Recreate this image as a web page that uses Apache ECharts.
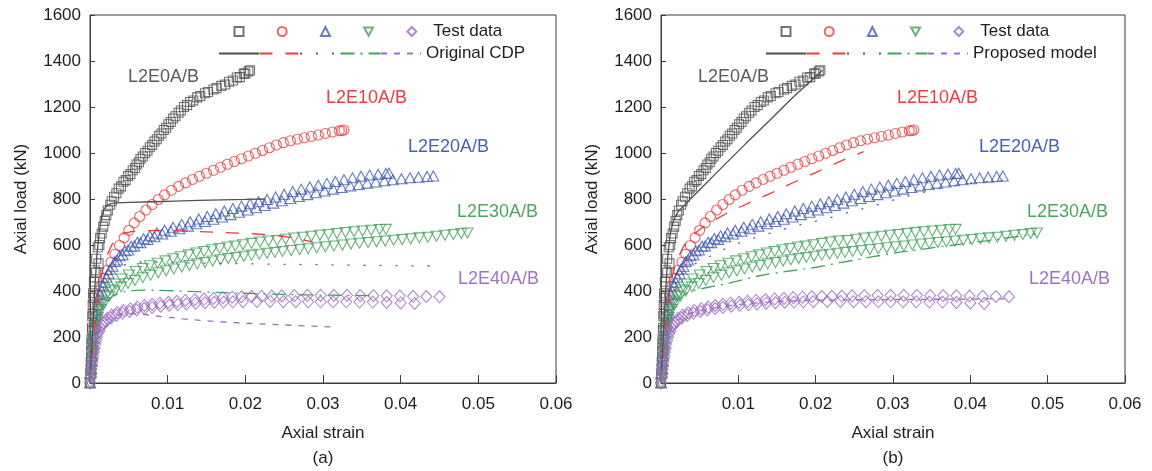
<!DOCTYPE html>
<html>
<head>
<meta charset="utf-8">
<title>Axial load–strain curves</title>
<script src="https://cdn.jsdelivr.net/npm/echarts@6/dist/echarts.min.js"></script>
<style>
  html, body { margin: 0; padding: 0; background: #fff; }
  #chart { width: 1152px; height: 471px; }
</style>
</head>
<body>
<div id="chart"></div>
<script>
// ---- Test data: [axial strain, axial load (kN)], specimens A and B ----
const testE0 = [
  [0,0],[0.00005,40],[0.0001,90],[0.00015,140],[0.0002,190],[0.00025,240],[0.0003,290],[0.00035,340],
  [0.0004,390],[0.0005,440],[0.0006,490],[0.0008,540],[0.001,590],[0.0013,630],[0.0017,680],[0.0021,730],
  [0.0026,775],[0.0031,810],[0.0037,845],[0.0043,875],[0.0049,900],[0.0055,925],[0.006,950],[0.0065,975],
  [0.0071,1000],[0.0077,1025],[0.0083,1050],[0.0089,1075],[0.0095,1100],[0.0101,1125],[0.0107,1150],
  [0.0114,1175],[0.0121,1200],[0.0129,1222],[0.0138,1242],[0.0148,1260],[0.0159,1276],[0.0169,1292],
  [0.0179,1310],[0.0189,1328],[0.0198,1345],[0.0206,1360],
  [0.0001,60],[0.00015,110],[0.0002,170],[0.0003,230],[0.00035,300],[0.00045,370],[0.0006,420],
  [0.0008,480],[0.0011,520],[0.0012,600],[0.0015,650],[0.0019,705],[0.0023,750],[0.0028,790],
  [0.0034,825],[0.004,855],[0.0046,882],[0.0052,908],[0.0058,935],[0.0063,960],[0.0068,985],
  [0.0074,1010],[0.008,1035],[0.0086,1060],[0.0092,1085],[0.0098,1110],[0.0104,1135],[0.011,1160],
  [0.0117,1185],[0.0125,1208],[0.0133,1228],[0.0142,1248],[0.0152,1265],[0.0163,1282],[0.0174,1298],
  [0.0184,1315],[0.0193,1330],[0.02,1345],[0.0204,1355]
];
const testE10 = [
  [0,0],[0.0001,50],[0.0002,100],[0.0003,150],[0.0004,200],[0.0005,245],[0.0007,290],[0.0009,335],
  [0.0011,380],[0.0014,420],[0.0018,455],[0.0022,490],[0.0027,525],[0.0032,560],[0.0038,598],
  [0.0044,632],[0.005,664],[0.0057,696],[0.0064,724],[0.0072,752],[0.008,776],[0.0088,798],
  [0.0096,818],[0.0105,838],[0.0114,855],[0.0123,870],[0.0132,885],[0.0141,899],[0.015,912],
  [0.0159,925],[0.0168,938],[0.0177,951],[0.0186,963],[0.0195,975],[0.0204,987],[0.0213,999],
  [0.0222,1011],[0.0231,1023],[0.024,1035],[0.0249,1045],[0.0258,1053],[0.0267,1060],[0.0276,1066],
  [0.0285,1072],[0.0294,1078],[0.0303,1085],[0.0312,1091],[0.0321,1097],[0.0327,1100],[0.0324,1097]
];
const testE20 = [
  [0,0],[0.0001,45],[0.0002,95],[0.0003,145],[0.0004,195],[0.0006,245],[0.0008,295],[0.001,340],
  [0.0013,385],[0.0017,425],[0.0021,460],[0.0026,495],[0.0032,528],[0.0038,553],[0.0045,575],
  [0.0053,595],[0.0061,612],[0.0069,627],[0.0077,640],[0.0086,652],[0.0096,664],[0.0107,677],
  [0.0118,690],[0.0129,701],[0.014,713],[0.0151,724],[0.0162,736],[0.0173,748],[0.0184,759],
  [0.0195,769],[0.0206,779],[0.0217,788],[0.0228,798],[0.0239,809],[0.025,821],[0.0261,833],
  [0.0272,843],[0.0283,852],[0.0294,860],[0.0305,868],[0.0316,876],[0.0327,884],[0.0338,892],
  [0.0349,899],[0.036,904],[0.0371,908],[0.0381,911],[0.0385,912],
  [0.00015,60],[0.00025,120],[0.00035,170],[0.0005,220],[0.0007,270],[0.0009,318],[0.0012,362],
  [0.0015,400],[0.0019,438],[0.0024,475],[0.0029,508],[0.0035,535],[0.0042,558],[0.0049,578],
  [0.0057,596],[0.0065,610],[0.0074,624],[0.0083,636],[0.0093,648],[0.0104,660],[0.0115,671],
  [0.0126,682],[0.0137,692],[0.0148,702],[0.0159,712],[0.017,722],[0.0181,732],[0.0192,742],
  [0.0203,752],[0.0214,762],[0.0225,772],[0.0236,782],[0.0247,792],[0.0258,802],[0.0269,811],
  [0.028,819],[0.0291,827],[0.0302,835],[0.0313,843],[0.0324,850],[0.0335,857],[0.0346,863],
  [0.0357,869],[0.0368,874],[0.0379,879],[0.039,884],[0.0401,888],[0.0412,892],[0.0423,895],
  [0.0434,898],[0.0442,900]
];
const testE30 = [
  [0,0],[0.0001,40],[0.0002,85],[0.0003,130],[0.0004,175],[0.0006,220],[0.0008,265],[0.0011,310],
  [0.0015,345],[0.002,375],[0.0026,405],[0.0033,430],[0.0041,452],[0.005,470],[0.0059,485],
  [0.0068,498],[0.0077,510],[0.0087,521],[0.0097,531],[0.0107,540],[0.0117,549],[0.0127,557],
  [0.0137,565],[0.0147,572],[0.0157,579],[0.0167,585],[0.0177,591],[0.0187,596],[0.0197,601],
  [0.0208,607],[0.0219,613],[0.023,617],[0.0241,620],[0.0252,625],[0.0263,630],[0.0274,634],
  [0.0285,638],[0.0296,642],[0.0307,646],[0.0318,650],[0.0329,654],[0.034,658],[0.0351,661],
  [0.0362,664],[0.0373,667],[0.0381,668],
  [0.00015,60],[0.00025,110],[0.00035,155],[0.0005,200],[0.0007,245],[0.001,285],[0.0014,320],
  [0.0019,350],[0.0025,378],[0.0032,400],[0.004,418],[0.0049,433],[0.0058,446],[0.0068,458],
  [0.0078,469],[0.0088,479],[0.0098,488],[0.0108,496],[0.0118,504],[0.0128,511],[0.0138,518],
  [0.0148,524],[0.0158,530],[0.0168,536],[0.0178,541],[0.0188,546],[0.0198,551],[0.0208,556],
  [0.0218,560],[0.0228,564],[0.0238,568],[0.0248,572],[0.0259,576],[0.027,580],[0.0281,584],
  [0.0292,588],[0.0303,592],[0.0314,596],[0.0325,600],[0.0336,604],[0.0347,608],[0.0358,611],
  [0.0369,614],[0.038,617],[0.0391,621],[0.0402,624],[0.0413,627],[0.0424,631],[0.0435,634],
  [0.0446,638],[0.0457,642],[0.0468,646],[0.0478,650],[0.0486,652]
];
const testE40 = [
  [0,0],[0.0001,30],[0.0002,60],[0.0003,90],[0.0004,115],[0.0006,150],[0.0008,185],[0.001,215],
  [0.0013,240],[0.0017,262],[0.0022,280],[0.0028,295],[0.0035,306],[0.0043,315],[0.0052,323],
  [0.0061,330],[0.007,337],[0.008,342],[0.009,347],[0.0101,351],[0.0112,355],[0.0123,359],
  [0.0135,362],[0.0147,365],[0.0159,368],[0.0171,371],[0.0183,373],[0.0195,375],[0.0208,376],
  [0.0221,377],[0.0234,378],[0.0247,379],[0.0263,380],[0.028,381],[0.0297,381],[0.0314,381],
  [0.0331,381],[0.0348,380],[0.0365,380],[0.0382,379],[0.0399,378],[0.0416,377],[0.0433,376],
  [0.045,375],
  [0.00015,45],[0.00025,75],[0.00035,105],[0.0005,135],[0.0007,170],[0.0009,200],[0.0012,225],
  [0.0016,250],[0.0021,268],[0.0027,283],[0.0034,294],[0.0042,303],[0.0051,311],[0.006,318],
  [0.007,324],[0.008,329],[0.0091,334],[0.0102,338],[0.0113,341],[0.0124,344],[0.0136,347],
  [0.0148,349],[0.016,351],[0.0172,352],[0.0184,353],[0.0197,354],[0.0215,355],[0.0232,355],
  [0.0249,354],[0.0265,354],[0.0281,353],[0.0297,353],[0.0313,353],[0.033,353],[0.0347,352],
  [0.0364,352],[0.0382,350],[0.04,348],[0.0418,346]
];

// ---- Simulated curves with the original CDP model ----
const cdpE0 = [[0,0],[0.0003,200],[0.0006,400],[0.0009,560],[0.0012,660],[0.0015,720],[0.0018,755],
  [0.0022,772],[0.0027,780],[0.0035,783],[0.005,785],[0.008,788],[0.011,791],[0.014,794],[0.017,796],
  [0.02,798],[0.0226,800]];
const cdpE10 = [[0,0],[0.0003,120],[0.0006,240],[0.001,370],[0.0015,470],[0.002,540],[0.0028,600],
  [0.0036,635],[0.0045,652],[0.0055,659],[0.007,662],[0.009,663],[0.011,662],[0.013,660],[0.015,657],
  [0.017,654],[0.019,652],[0.021,649],[0.023,644],[0.025,637],[0.027,627],[0.0287,612]];
const cdpE20 = [[0,0],[0.0003,100],[0.0006,200],[0.001,300],[0.0015,390],[0.002,440],[0.003,485],
  [0.004,508],[0.005,520],[0.0065,526],[0.009,526],[0.012,523],[0.015,521],[0.02,518],[0.025,516],
  [0.03,514],[0.035,512],[0.04,510],[0.0455,508]];
const cdpE30 = [[0,0],[0.0003,90],[0.0006,180],[0.001,260],[0.0015,320],[0.002,350],[0.003,380],
  [0.004,395],[0.0055,402],[0.007,404],[0.01,402],[0.013,398],[0.016,394],[0.019,391],[0.022,388],
  [0.025,385],[0.028,383],[0.031,382],[0.034,381],[0.036,380]];
const cdpE40 = [[0,0],[0.0003,70],[0.0006,140],[0.001,200],[0.0015,245],[0.002,272],[0.003,292],
  [0.004,300],[0.005,302],[0.0065,300],[0.008,294],[0.01,286],[0.012,279],[0.014,273],[0.016,268],
  [0.018,264],[0.02,260],[0.022,257],[0.024,254],[0.026,251],[0.028,248],[0.03,245],[0.0318,243]];

// ---- Simulated curves with the proposed model ----
const propE0 = [[0,0],[0.0003,200],[0.0006,400],[0.0009,560],[0.0012,650],[0.0016,705],[0.0022,745],
  [0.005,840],[0.008,942],[0.011,1042],[0.014,1140],[0.017,1240],[0.0209,1360]];
const propE10 = [[0,0],[0.0003,120],[0.0006,240],[0.001,370],[0.0015,470],[0.002,530],[0.003,600],
  [0.004,640],[0.0055,680],[0.007,710],[0.0085,738],[0.01,762],[0.012,793],[0.014,822],[0.016,854],
  [0.018,885],[0.02,915],[0.022,946],[0.024,976],[0.0262,1006]];
const propE20 = [[0,0],[0.0003,100],[0.0006,200],[0.001,300],[0.0015,380],[0.002,430],[0.003,480],
  [0.004,510],[0.005,530],[0.0066,555],[0.0088,592],[0.011,620],[0.013,640],[0.015,660],[0.017,680],
  [0.019,696],[0.021,710],[0.023,730],[0.025,748],[0.027,766],[0.029,785],[0.031,805],[0.033,822],
  [0.035,838],[0.037,852],[0.039,864],[0.041,873],[0.0442,882]];
const propE30 = [[0,0],[0.0003,90],[0.0006,180],[0.001,260],[0.0015,320],[0.002,355],[0.003,385],
  [0.004,400],[0.0055,412],[0.007,422],[0.0087,433],[0.0105,448],[0.0121,462],[0.014,474],[0.016,484],
  [0.018,493],[0.0195,500],[0.0215,512],[0.0229,522],[0.025,534],[0.0274,549],[0.0295,561],
  [0.0313,571],[0.0334,580],[0.036,592],[0.039,605],[0.042,618],[0.045,632],[0.0485,648]];
const propE40 = [[0,0],[0.0003,70],[0.0006,140],[0.001,200],[0.0015,245],[0.002,270],[0.003,292],
  [0.004,305],[0.006,320],[0.008,333],[0.01,342],[0.013,350],[0.016,356],[0.02,360],[0.025,362],
  [0.03,363],[0.035,364],[0.04,365],[0.0452,366]];

// ---- Groups, axis ticks and text ----
const groups = ['L2E0A/B', 'L2E10A/B', 'L2E20A/B', 'L2E30A/B', 'L2E40A/B'];
const strainTicks = [0, 0.01, 0.02, 0.03, 0.04, 0.05, 0.06];
const loadTicks = [0, 200, 400, 600, 800, 1000, 1200, 1400, 1600];
const panelTags = ['(a)', '(b)'];
const modelNames = ['Original CDP', 'Proposed model'];

const testSets = [testE0, testE10, testE20, testE30, testE40];
const modelSets = [
  [cdpE0, cdpE10, cdpE20, cdpE30, cdpE40],
  [propE0, propE10, propE20, propE30, propE40]
];

// ---- Styling ----
const FONT = '"Liberation Sans", Arial, Helvetica, sans-serif';
const TXT = '#1e1e1e';
const AX = '#3c3c3c';
const colors = ['#505050', '#ee3b3b', '#3f5db3', '#45a25a', '#9c6cc3'];
const labelColors = ['#5a5a5a', '#ee3b3b', '#4562b8', '#4ea55f', '#a073c6'];
const symbols = ['rect', 'circle', 'triangle', 'triangle', 'diamond'];
const symbolRot = [0, 0, 0, 180, 0];
const symbolSizes = [[9, 9], 10, [11, 10], [11, 10], [11, 12]];
// legend icons (the inverted triangle is given as a path so it keeps its orientation)
const legendIcons = ['rect', 'circle', 'triangle', 'path://M0,0L11,0L5.5,10Z', 'diamond'];
const dashTypes = ['solid', [13, 13], [2, 14], [14, 6, 2, 6], [6, 7]];

const grids = [
  { left: 90, top: 15, width: 466, height: 368 },
  { left: 661, top: 15, width: 464, height: 368 }
];

const xAxes = grids.map((g, i) => ({
  type: 'value', gridIndex: i,
  min: strainTicks[0], max: strainTicks[strainTicks.length - 1], interval: 0.01,
  name: 'Axial strain', nameLocation: 'middle', nameGap: 42,
  nameTextStyle: { fontSize: 17, color: TXT, fontFamily: FONT },
  axisLine: { show: true, onZero: false, lineStyle: { color: AX, width: 1 } },
  axisTick: { show: true, inside: true, length: 8, lineStyle: { color: AX, width: 1 } },
  axisLabel: { fontSize: 17, color: TXT, fontFamily: FONT, margin: 13,
    formatter: v => (Math.abs(v) < 1e-9 ? '' : v.toFixed(2)) },
  splitLine: { show: false }
}));

const yAxes = grids.map((g, i) => ({
  type: 'value', gridIndex: i,
  min: loadTicks[0], max: loadTicks[loadTicks.length - 1], interval: 200,
  name: 'Axial load (kN)', nameLocation: 'middle', nameGap: 60, nameRotate: 90,
  nameTextStyle: { fontSize: 17, color: TXT, fontFamily: FONT },
  axisLine: { show: true, onZero: false, lineStyle: { color: AX, width: 1 } },
  axisTick: { show: true, inside: true, length: 5, lineStyle: { color: AX, width: 1 } },
  axisLabel: { fontSize: 17, color: TXT, fontFamily: FONT, margin: 9,
    formatter: v => String(Math.round(v)) },
  splitLine: { show: false }
}));

const series = [];
const legends = [];
const legendLeft = [218, 765];

[0, 1].forEach(p => {
  const testNames = [];
  const lineNames = [];
  groups.forEach((gName, k) => {
    const tName = gName + ' test ' + panelTags[p];
    testNames.push(tName);
    series.push({
      name: tName, type: 'scatter', xAxisIndex: p, yAxisIndex: p,
      data: testSets[k],
      symbol: symbols[k], symbolRotate: symbolRot[k], symbolSize: symbolSizes[k],
      itemStyle: { color: 'rgba(255,255,255,0)', borderColor: colors[k], borderWidth: 1.1 },
      emphasis: { disabled: true }, silent: true, z: 2
    });
  });
  groups.forEach((gName, k) => {
    const lName = gName + ' ' + modelNames[p];
    lineNames.push(lName);
    series.push({
      name: lName, type: 'line', xAxisIndex: p, yAxisIndex: p,
      data: modelSets[p][k], symbol: 'none', showSymbol: false,
      lineStyle: { color: colors[k], width: 1.3, type: dashTypes[k] },
      itemStyle: { color: colors[k] },
      emphasis: { disabled: true }, silent: true, z: 3
    });
  });
  const lastT = testNames[testNames.length - 1];
  const lastL = lineNames[lineNames.length - 1];
  // marker row: small icons, text pushed right of the last marker
  legends.push({
    data: testNames.map((n, k) => ({ name: n, icon: legendIcons[k] })),
    left: legendLeft[p] + 15.5, top: 23, orient: 'horizontal',
    itemWidth: 9, itemHeight: 9, itemGap: 32.2, padding: 0, selectedMode: false,
    textStyle: { fontSize: 17, color: TXT, fontFamily: FONT, padding: [0, 0, 0, 12] },
    formatter: n => (n === lastT ? 'Test data' : '')
  });
  legends.push({
    data: lineNames, left: legendLeft[p], top: 45, orient: 'horizontal',
    itemWidth: 40, itemHeight: 9, itemGap: -1.5, padding: 0, selectedMode: false,
    // line icons only: hide the marker that sits on each legend line
    itemStyle: { color: 'rgba(0,0,0,0)', borderColor: 'rgba(0,0,0,0)', borderWidth: 0, opacity: 0 },
    textStyle: { fontSize: 17, color: TXT, fontFamily: FONT },
    formatter: n => (n === lastL ? modelNames[p] : '')
  });
});

// Curve labels and panel tags
const labelSpots = [
  [[128, 77], [326, 98], [408, 147], [457, 212], [458, 279]],
  [[698, 77], [897, 98], [979, 147], [1027, 212], [1029, 279]]
];
const graphics = [];
[0, 1].forEach(p => {
  groups.forEach((gName, k) => {
    graphics.push({
      type: 'text', x: labelSpots[p][k][0], y: labelSpots[p][k][1], silent: true,
      style: { text: gName, fill: labelColors[k], font: '18px ' + FONT,
        textAlign: 'left', textVerticalAlign: 'middle' }
    });
  });
  const g = grids[p];
  graphics.push({
    type: 'text', x: g.left + g.width / 2, y: 458, silent: true,
    style: { text: panelTags[p], fill: TXT, font: '17px ' + FONT,
      textAlign: 'center', textVerticalAlign: 'middle' }
  });
});

const chart = echarts.init(document.getElementById('chart'), null, { renderer: 'canvas' });
chart.setOption({
  animation: false,
  backgroundColor: '#ffffff',
  textStyle: { fontFamily: FONT },
  grid: grids.map(g => Object.assign({ show: true, borderColor: AX, borderWidth: 1,
    backgroundColor: 'rgba(0,0,0,0)' }, g)),
  xAxis: xAxes,
  yAxis: yAxes,
  legend: legends,
  series: series,
  graphic: graphics
});
</script>
</body>
</html>
